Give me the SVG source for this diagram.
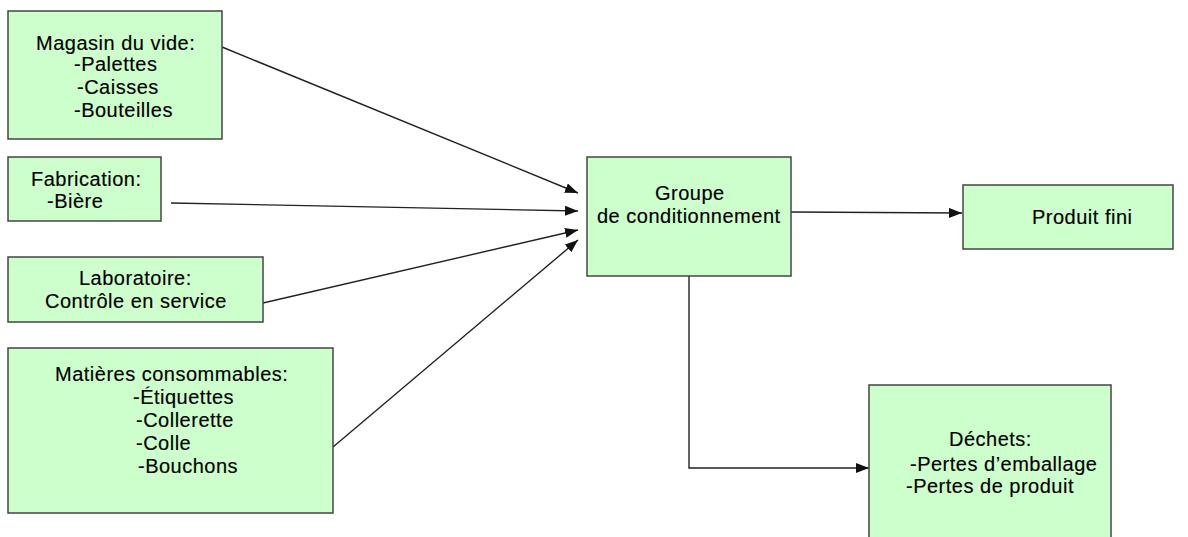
<svg xmlns="http://www.w3.org/2000/svg" width="1188" height="537" viewBox="0 0 1188 537">
<style>
.box{fill:#ccffcc;stroke:#444;stroke-width:1.5}
.t{font-family:"Liberation Sans",Arial,sans-serif;font-size:20px;letter-spacing:0.5px;fill:#000;stroke:#000;stroke-width:0.15}
.c{fill:none;stroke:#222;stroke-width:1.4}
</style>
<defs>
<marker id="ah" markerUnits="userSpaceOnUse" markerWidth="14" markerHeight="11" refX="13" refY="5" orient="auto">
<path d="M0,0 L13,5 L0,10 z" fill="#111"/>
</marker>
</defs>
<rect width="1188" height="537" fill="#fff"/>
<g id="connectors">
<line class="c" x1="222" y1="47" x2="578" y2="193" marker-end="url(#ah)"/>
<line class="c" x1="171" y1="203" x2="578" y2="211" marker-end="url(#ah)"/>
<line class="c" x1="263" y1="303" x2="578" y2="230" marker-end="url(#ah)"/>
<line class="c" x1="333" y1="447" x2="578" y2="240" marker-end="url(#ah)"/>
<line class="c" x1="791" y1="212" x2="962" y2="213" marker-end="url(#ah)"/>
<polyline class="c" points="689,267 689,468 869,468" marker-end="url(#ah)"/>
</g>
<g id="magasin">
<rect class="box" x="8" y="11" width="214" height="128"/>
<text class="t" x="36" y="50">Magasin du vide:</text>
<text class="t" x="74" y="71">-Palettes</text>
<text class="t" x="77" y="94">-Caisses</text>
<text class="t" x="74" y="117">-Bouteilles</text>
</g>
<g id="fabrication">
<rect class="box" x="8" y="157" width="153" height="64"/>
<text class="t" x="31" y="186">Fabrication:</text>
<text class="t" x="47" y="208">-Bière</text>
</g>
<g id="laboratoire">
<rect class="box" x="8" y="257" width="255" height="65"/>
<text class="t" x="79" y="285">Laboratoire:</text>
<text class="t" x="45" y="308">Contrôle en service</text>
</g>
<g id="matieres">
<rect class="box" x="8" y="348" width="325" height="165"/>
<text class="t" x="55" y="381">Matières consommables:</text>
<text class="t" x="133" y="404">-Étiquettes</text>
<text class="t" x="136" y="427">-Collerette</text>
<text class="t" x="136" y="450">-Colle</text>
<text class="t" x="138" y="473">-Bouchons</text>
</g>
<g id="groupe">
<rect class="box" x="587" y="157" width="204" height="119"/>
<text class="t" x="655" y="200">Groupe</text>
<text class="t" x="597" y="223">de conditionnement</text>
</g>
<g id="produit">
<rect class="box" x="963" y="185" width="210" height="64"/>
<text class="t" x="1032" y="224">Produit fini</text>
</g>
<g id="dechets">
<rect class="box" x="869" y="385" width="242" height="165"/>
<text class="t" x="949" y="446">Déchets:</text>
<text class="t" x="910" y="471">-Pertes d’emballage</text>
<text class="t" x="906" y="493">-Pertes de produit</text>
</g>
</svg>
